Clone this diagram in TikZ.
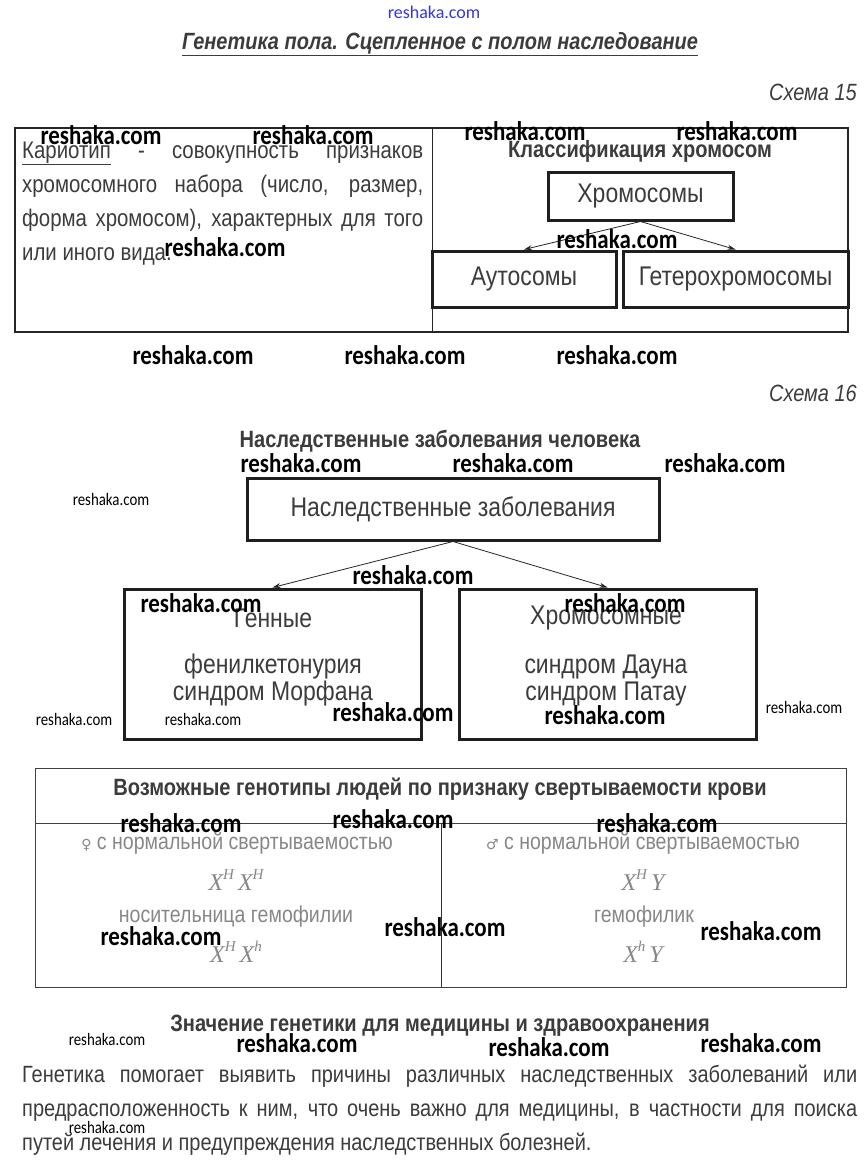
\documentclass[tikz,border=0pt]{standalone}
\usepackage{fontspec}
\setmainfont{Liberation Sans}[FakeStretch=0.85]
\newfontfamily\wmf{Carlito}[FakeStretch=0.85]
\newfontfamily\wmtop{Carlito}
\newfontfamily\symf{DejaVu Sans}
\newfontfamily\serf{Liberation Serif}
\usetikzlibrary{arrows.meta}
\definecolor{txt}{RGB}{60,60,60}
\definecolor{lighttxt}{RGB}{135,135,135}
\definecolor{wmblue}{RGB}{55,55,215}
\newcommand{\fsz}[1]{\fontsize{#1}{#1}\selectfont}
\newcommand{\gsup}[1]{\raisebox{0.45em}{\fsz{15}#1}}
\begin{document}
\begin{tikzpicture}[x=1pt,y=-1pt,
  wm/.style={font=\wmf\bfseries\fsz{27}, text=black, inner sep=0pt},
  wms/.style={font=\wmf\fsz{17.5}, text=black, inner sep=0pt},
  box/.style={draw=black!88, line width=3pt, inner sep=0pt, text=txt, font=\fsz{27}},
  lbl/.style={inner sep=0pt, text=txt},
  hdr/.style={inner sep=0pt, text=txt, font=\bfseries\fsz{23.6}},
  cell/.style={inner sep=0pt, text=lighttxt, font=\fsz{23}},
  gen/.style={inner sep=0pt, text=lighttxt, font=\serf\itshape\fsz{24}},
  arr/.style={-{Stealth[length=8pt,width=5pt]}, line width=0.8pt, draw=black!85},
  frame/.style={draw=black!85, line width=1.8pt}]
\useasboundingbox (0,0) rectangle (867,1175);
\fill[white] (0,0) rectangle (867,1175);

% header
\node[inner sep=0pt, text=wmblue, font=\wmtop\fsz{18}] (wtop) at (434,12) {reshaka.com};
\node[lbl, font=\bfseries\itshape\fsz{23.5}] (title) at (440,44) {\underline{Генетика пола. Сцепленное с полом наследование}};
\node[lbl, anchor=east, font=\itshape\fsz{23.5}] (s15) at (857,92) {Схема 15};

% scheme 15 frame
\draw[frame] (15,128) rectangle (848,332);
\draw[draw=black!85, line width=1pt] (432,128) -- (432,332);

\node[lbl, anchor=base west] (kar) at (22,158) {\parbox[t]{401pt}{\fontsize{24}{34}\selectfont
\underline{Кариотип} - совокупность признаков\linebreak
хромосомного набора (число, размер,\linebreak
форма хромосом), характерных для того\linebreak
или иного вида.}};

\node[hdr] (klass) at (640,151) {Классификация хромосом};
\node[box, minimum width=185pt, minimum height=48pt] (chr) at (640.5,196) {Хромосомы};
\node[box, minimum width=184pt, minimum height=56pt] (auto) at (524,279) {Аутосомы};
\node[box, minimum width=225pt, minimum height=56pt] (het) at (735.5,279) {Гетерохромосомы};
\draw[arr] (chr.south) -- (auto.north);
\draw[arr] (chr.south) -- (het.north);

% scheme 16
\node[lbl, anchor=east, font=\itshape\fsz{23.5}] (s16) at (857,393) {Схема 16};
\node[hdr] (nzh) at (440,441) {Наследственные заболевания человека};
\node[box, minimum width=412pt, minimum height=62pt] (nz) at (453,509) {Наследственные заболевания};
\node[box, minimum width=297pt, minimum height=150pt] (gen) at (272.5,664) {};
\node[box, minimum width=297pt, minimum height=150pt] (chrd) at (607.5,664) {};
\draw[arr] (nz.south) -- (gen.north);
\draw[arr] (nz.south) -- (chrd.north);
\node[lbl, font=\fsz{27}] (gt) at (273,618) {Генные};
\node[lbl, font=\fsz{27}] (g1) at (273,667) {фенилкетонурия};
\node[lbl, font=\fsz{27}] (g2) at (273,694) {синдром Морфана};
\node[lbl, font=\fsz{27}] (ct) at (606,618) {Хромосомные};
\node[lbl, font=\fsz{27}] (c1) at (606,667) {синдром Дауна};
\node[lbl, font=\fsz{27}] (c2) at (606,694) {синдром Патау};

% table
\draw[draw=black!75, line width=0.9pt] (35,768) rectangle (846,987);
\draw[draw=black!75, line width=0.9pt] (35,823) -- (846,823);
\draw[draw=black!80, line width=0.7pt] (441,823) -- (441,987);
\node[hdr] (th) at (440,789) {Возможные генотипы людей по признаку свертываемости крови};
\node[cell] (l1) at (237,843) {{\symf\fsz{14}♀} с нормальной свертываемостью};
\node[gen] (l2) at (236,880) {X\gsup{H}\,X\gsup{H}};
\node[cell] (l3) at (236,917) {носительница гемофилии};
\node[gen] (l4) at (236,952) {X\gsup{H}\,X\gsup{h}};
\node[cell] (r1) at (643,843) {{\symf\fsz{14}♂} с нормальной свертываемостью};
\node[gen] (r2) at (643,880) {X\gsup{H}\,Y};
\node[cell] (r3) at (644,917) {гемофилик};
\node[gen] (r4) at (643,952) {X\gsup{h}\,Y};

% bottom
\node[hdr] (zn) at (440,1026) {Значение генетики для медицины и здравоохранения};
\node[lbl, anchor=base west] (par) at (22,1082) {\parbox[t]{835pt}{\fontsize{23.5}{34}\selectfont
Генетика помогает выявить причины различных наследственных заболеваний или\linebreak
предрасположенность к ним, что очень важно для медицины, в частности для поиска\linebreak
путей лечения и предупреждения наследственных болезней.}};

% watermarks
\node[wm] (w1) at (101,135) {reshaka.com};
\node[wm] (w2) at (313,135) {reshaka.com};
\node[wm] (w3) at (525,131) {reshaka.com};
\node[wm] (w4) at (737,131) {reshaka.com};
\node[wm] (w5) at (225,247) {reshaka.com};
\node[wm] (w6) at (617,239) {reshaka.com};
\node[wm] (w7) at (193,355) {reshaka.com};
\node[wm] (w8) at (405,355) {reshaka.com};
\node[wm] (w9) at (617,355) {reshaka.com};
\node[wm] (w10) at (301,463) {reshaka.com};
\node[wm] (w11) at (513,463) {reshaka.com};
\node[wm] (w12) at (725,463) {reshaka.com};
\node[wm] (w13) at (413,575) {reshaka.com};
\node[wm] (w14) at (201,603) {reshaka.com};
\node[wm] (w15) at (625,603) {reshaka.com};
\node[wm] (w16) at (393,712) {reshaka.com};
\node[wm] (w17) at (605,715) {reshaka.com};
\node[wm] (w18) at (181,823) {reshaka.com};
\node[wm] (w19) at (393,819) {reshaka.com};
\node[wm] (w20) at (657,823) {reshaka.com};
\node[wm] (w21) at (161,936) {reshaka.com};
\node[wm] (w22) at (445,927) {reshaka.com};
\node[wm] (w23) at (761,931) {reshaka.com};
\node[wm] (w24) at (297,1043) {reshaka.com};
\node[wm] (w25) at (549,1047) {reshaka.com};
\node[wm] (w26) at (761,1043) {reshaka.com};
\node[wms] (v1) at (111,499) {reshaka.com};
\node[wms] (v2) at (74,719) {reshaka.com};
\node[wms] (v3) at (203,719) {reshaka.com};
\node[wms] (v4) at (804,707) {reshaka.com};
\node[wms] (v5) at (107,1039) {reshaka.com};
\node[wms] (v6) at (107,1127) {reshaka.com};
\end{tikzpicture}
\end{document}
